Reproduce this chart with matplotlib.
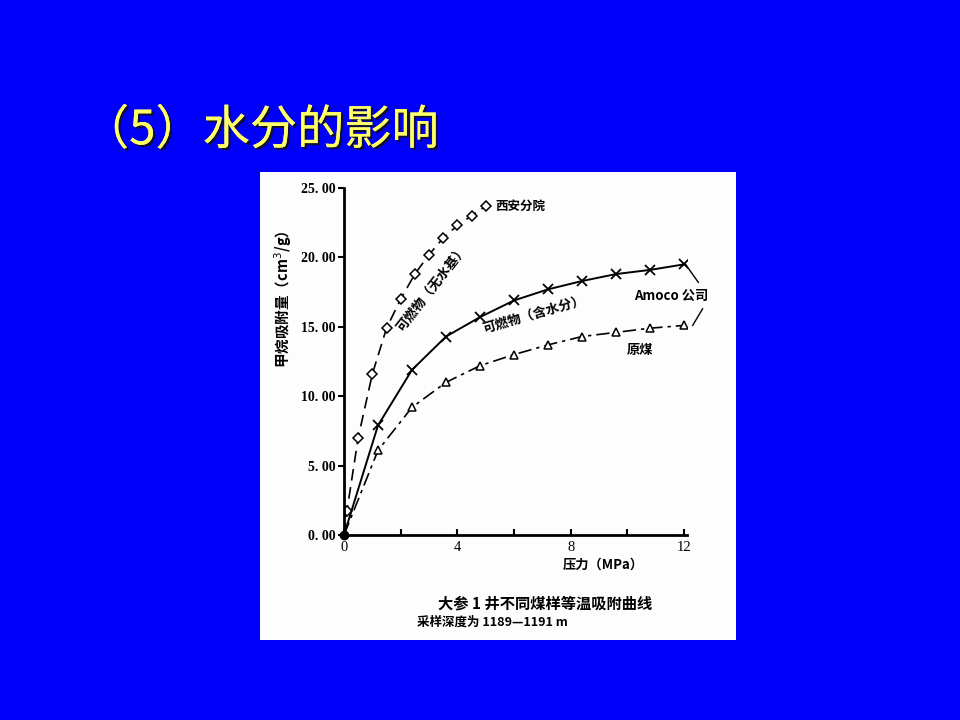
import matplotlib
matplotlib.use('Agg')
import matplotlib.pyplot as plt
import matplotlib.patches as patches
import matplotlib.patheffects as pe

plt.rcParams['font.family'] = ['Noto Sans CJK SC', 'DejaVu Sans']

# pressure (MPa) and methane adsorption (cm3/g)
p_dry = [0, 0.1, 0.5, 1.0, 1.5, 2.0, 2.5, 3.0, 3.5, 4.0, 4.5, 5.0]
v_dry = [0, 1.7, 7.0, 11.6, 14.9, 17.0, 18.8, 20.2, 21.4, 22.3, 23.0, 23.7]

p_wet = [0, 1.2, 2.4, 3.6, 4.8, 6.0, 7.2, 8.4, 9.6, 10.8, 12.0]
v_wet = [0, 7.9, 11.9, 14.3, 15.7, 16.9, 17.7, 18.3, 18.8, 19.1, 19.5]

p_raw = [0, 1.2, 2.4, 3.6, 4.8, 6.0, 7.2, 8.4, 9.6, 10.8, 12.0]
v_raw = [0, 6.1, 9.2, 11.0, 12.2, 13.0, 13.7, 14.3, 14.6, 14.9, 15.1]

yticks = [0, 5, 10, 15, 20, 25]
ytick_labels = ['0. 00', '5. 00', '10. 00', '15. 00', '20. 00', '25. 00']
xticks = [0, 2, 4, 6, 8, 10, 12]
xtick_labels = ['0', '', '4', '', '8', '', '12']

fig = plt.figure(figsize=(9.6, 7.2), dpi=100)
fig.patch.set_facecolor('#0000fa')

# white panel holding the scanned chart
fig.patches.append(patches.Rectangle((260 / 960, 1 - 640 / 720), 476 / 960, 468 / 720,
                                     transform=fig.transFigure, facecolor='#fdfdfd',
                                     edgecolor='none', zorder=-5))

# slide title with a dark shadow
fig.text(82 / 960, 1 - 131 / 720, '（5）水分的影响', color='#ffff66', fontsize=34,
         va='center', ha='left',
         path_effects=[pe.withSimplePatchShadow(offset=(1.5, -1.5), shadow_rgbFace='#101030',
                                                alpha=1.0),
                       pe.Normal()])

ax = fig.add_axes([344 / 960, 1 - 535 / 720, 343 / 960, 347 / 720])
ax.set_zorder(2)
ax.set_facecolor('none')
ax.set_xlim(0, 12.1)
ax.set_ylim(0, 25)

ax.plot(p_dry, v_dry, color='black', lw=1.2, ls=(0, (7, 4)), marker='D', ms=5,
        mfc='white', mec='black', mew=1.1, markevery=list(range(1, len(p_dry))))
ax.plot(p_wet, v_wet, color='black', lw=1.4, ls='-', marker='x', ms=7, mew=1.3,
        markevery=list(range(1, len(p_wet))))
ax.plot(p_raw, v_raw, color='black', lw=1.2, ls=(0, (8, 3, 2, 3)), marker='^', ms=6,
        mfc='white', mec='black', mew=1.1, markevery=list(range(1, len(p_raw))))
ax.plot([0], [0], 'o', color='black', ms=6, clip_on=False)

for s in ['top', 'right']:
    ax.spines[s].set_visible(False)
for s in ['left', 'bottom']:
    ax.spines[s].set_linewidth(2)

ax.set_yticks(yticks)
ax.set_yticklabels(ytick_labels, family='Liberation Serif', fontsize=10, fontweight='bold')
ax.set_xticks(xticks)
ax.set_xticklabels(xtick_labels, family='Liberation Serif', fontsize=10.5)
ax.tick_params(axis='y', direction='out', length=4, width=1.5, pad=2)
ax.tick_params(axis='x', direction='in', length=4, width=1.5, pad=4)

ax.set_ylabel('甲烷吸附量（cm$^3$/g）', fontsize=10.5, fontweight='bold')
ax.yaxis.set_label_coords(-0.145, 0.68)
ax.set_xlabel('压力（MPa）', fontsize=9.5, fontweight='bold')
ax.xaxis.set_label_coords(0.755, -0.065)

# curve labels
ax.text(p_dry[-1] + 0.35, v_dry[-1], '西安分院', fontsize=9, fontweight='bold', va='center')
ax.text(3.1, 17.8, '可燃物（无水基）', fontsize=9.5, fontweight='bold', rotation=52,
        ha='center', va='center')
ax.text(6.7, 15.9, '可燃物（含水分）', fontsize=9.5, fontweight='bold', rotation=16,
        ha='center', va='center')
ax.text(11.55, 17.2, 'Amoco 公司', fontsize=9.5, fontweight='bold', ha='center', va='center')
ax.text(10.45, 13.3, '原煤', fontsize=9.5, fontweight='bold', ha='center', va='center')

# bracket joining the two Amoco curves
ax.plot([p_wet[-1] + 0.05, p_wet[-1] + 0.5], [v_wet[-1], v_wet[-1] - 1.3], color='black', lw=1,
        clip_on=False)
ax.plot([p_raw[-1] + 0.65, p_raw[-1] + 0.3], [v_raw[-1] + 1.2, v_raw[-1]], color='black', lw=1,
        clip_on=False)

fig.text(545 / 960, 1 - 603 / 720, '大参 1 井不同煤样等温吸附曲线', fontsize=11,
         fontweight='bold', ha='center', va='center')
fig.text(417 / 960, 1 - 622 / 720, '采样深度为 1189—1191 m', fontsize=9,
         fontweight='bold', ha='left', va='center')

fig.savefig('out.png', dpi=100, facecolor=fig.get_facecolor())
